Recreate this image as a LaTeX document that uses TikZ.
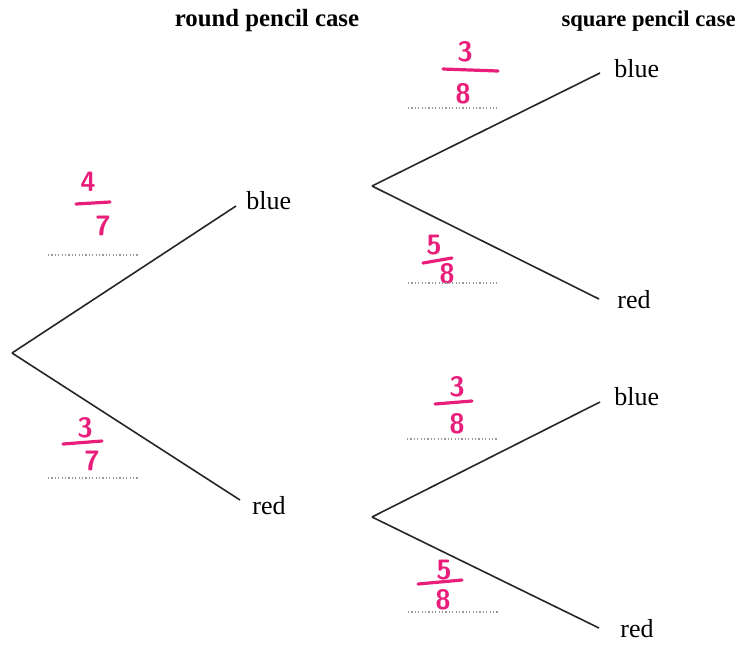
\documentclass[tikz,border=0pt]{standalone}
\usepackage{xcolor}
\usepackage{fontspec}
\setmainfont{Liberation Serif}
\usepackage{tikz}
\definecolor{pen}{RGB}{232,30,122}

\begin{document}
\begin{tikzpicture}[x=0.5pt, y=-0.5pt,
  rama/.style={line width=0.8pt, black!85},
  etiq/.style={anchor=base west, inner sep=0pt, font=\fontsize{13}{15}\selectfont},
  titulo/.style={anchor=base, inner sep=0pt, font=\fontsize{12.4}{14}\selectfont\bfseries},
  puntos/.style={gray!80, line width=0.6pt, dash pattern=on 0.6pt off 1.1pt},
  cifra/.style={pen, inner sep=0pt, font=\fontsize{14}{14}\selectfont\sffamily\bfseries},
  raya/.style={pen, line width=1.6pt, line cap=round}]
\useasboundingbox (0,0) rectangle (739,645);
% Títulos
\node[titulo] (t1) at (267,26) {round pencil case};
\node[titulo, anchor=base east, font=\fontsize{11.3}{14}\selectfont\bfseries] (t2) at (736,26) {square pencil case};

% Primer nivel
\coordinate (o) at (12,353);
\coordinate (e1) at (236,206);
\coordinate (e2) at (240,500);
\draw[rama] (o) -- (e1);
\draw[rama] (o) -- (e2);
\node[etiq] (b1) at (246,209) {blue};
\node[etiq] (r1) at (252,514) {red};

% Segundo nivel
\coordinate (s1) at (372,186);
\coordinate (s2) at (372,517);
\coordinate (e3) at (600,73);
\coordinate (e4) at (599,299);
\coordinate (e5) at (600,402);
\coordinate (e6) at (599,628);
\draw[rama] (s1) -- (e3);
\draw[rama] (s1) -- (e4);
\draw[rama] (s2) -- (e5);
\draw[rama] (s2) -- (e6);
\node[etiq] (b2) at (614,77) {blue};
\node[etiq] (r2) at (617,308) {red};
\node[etiq] (b3) at (614,405) {blue};
\node[etiq] (r3) at (620,637) {red};

% Respuestas escritas a mano
\node[cifra] (n1) at (88,182) {4};
\node[cifra] (d1) at (103,226) {7};
\draw[raya] (76,204) -- (110,202);
\draw[puntos] (48,255) -- (138,255);

\node[cifra] (n2) at (85,428) {3};
\node[cifra] (d2) at (92,461) {7};
\draw[raya] (63,444) -- (102,441);
\draw[puntos] (48,478) -- (138,478);

\node[cifra] (n3) at (465,52) {3};
\node[cifra] (d3) at (463,94) {8};
\draw[raya] (443,69) -- (498,71);
\draw[puntos] (408,108) -- (497,108);

\node[cifra] (n4) at (434,245) {5};
\node[cifra] (d4) at (447,274) {8};
\draw[raya] (423,263) -- (452,258);
\draw[puntos] (408,283) -- (497,283);

\node[cifra] (n5) at (457,387) {3};
\node[cifra] (d5) at (457,424) {8};
\draw[raya] (435,404) -- (472,401);
\draw[puntos] (407,439) -- (498,439);

\node[cifra] (n6) at (444,570) {5};
\node[cifra] (d6) at (443,600) {8};
\draw[raya] (418,584) -- (462,580);
\draw[puntos] (408,612) -- (498,612);

\end{tikzpicture}
\end{document}
